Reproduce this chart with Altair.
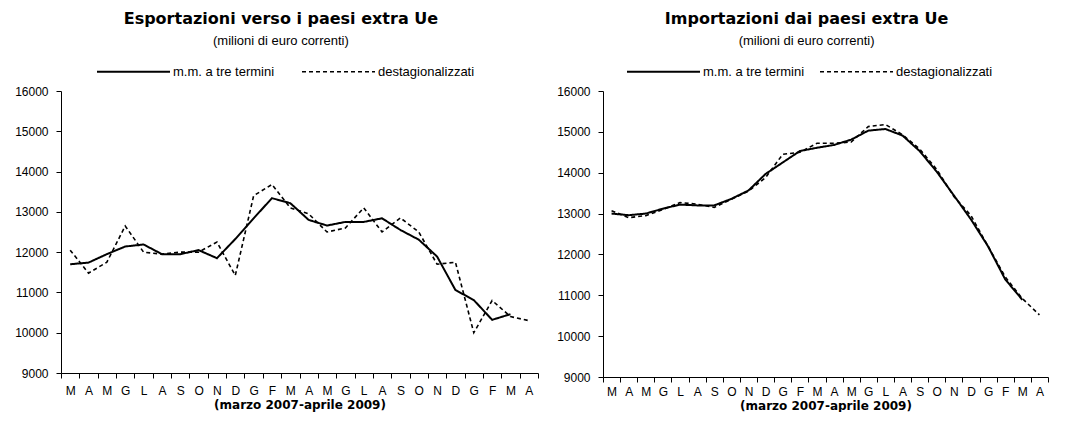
import altair as alt
import pandas as pd

months = ["M", "A", "M", "G", "L", "A", "S", "O", "N", "D", "G", "F",
          "M", "A", "M", "G", "L", "A", "S", "O", "N", "D", "G", "F", "M", "A"]
series_names = ["m.m. a tre termini", "destagionalizzati"]

exp_mm = [11700, 11740, 11950, 12140, 12190, 11950, 11950, 12050, 11850, 12325,
          12840, 13340, 13215, 12800, 12660, 12750, 12750, 12840, 12550, 12310,
          11890, 11060, 10810, 10320, 10460]
exp_dest = [12050, 11480, 11750, 12650, 12000, 11950, 12000, 12000, 12250, 11420,
            13400, 13680, 13100, 12950, 12500, 12600, 13100, 12500, 12850, 12500,
            11700, 11750, 10000, 10800, 10400, 10300]

imp_mm = [13000, 12960, 13000, 13120, 13220, 13200, 13200, 13360, 13565, 13970,
          14250, 14530, 14610, 14680, 14810, 15030, 15070, 14910, 14530, 14025,
          13444, 12857, 12196, 11390, 10890]
imp_dest = [13070, 12900, 12950, 13100, 13270, 13230, 13150, 13350, 13550, 13880,
            14450, 14500, 14720, 14720, 14750, 15130, 15180, 14930, 14580, 14080,
            13420, 12950, 12200, 11450, 10920, 10520]

y_ticks = list(range(9000, 16001, 1000))
x_title = "(marzo 2007-aprile 2009)"
subtitle = "(milioni di euro correnti)"


def frame(mm, dest):
    rows = [{"i": i, "v": v, "s": series_names[0]} for i, v in enumerate(mm)]
    rows += [{"i": i, "v": v, "s": series_names[1]} for i, v in enumerate(dest)]
    return pd.DataFrame(rows)


label_expr = "[" + ",".join("'%s'" % m for m in months) + "][round(datum.value + 0.5)] || ''"
n = len(months)


def panel(df, title, w, h, lx, ly, colpad, xlabpad):
    step = w / n
    x = alt.X("i:Q",
              scale=alt.Scale(domain=[-0.5, n - 0.5], nice=False, zero=False),
              axis=alt.Axis(values=[k - 0.5 for k in range(n + 1)], labelExpr=label_expr,
                            labelOffset=step / 2, labelOverlap=False, labelFlush=False,
                            grid=False, labelFontSize=12, labelPadding=xlabpad, tickSize=5,
                            title=x_title, titleFont="DejaVu Sans", titleFontSize=12,
                            titleFontWeight="bold", titlePadding=3))
    y = alt.Y("v:Q",
              scale=alt.Scale(domain=[9000, 16000], nice=False, zero=False),
              axis=alt.Axis(values=y_ticks, format="d", title=None, grid=False,
                            labelFontSize=12, labelPadding=8, tickSize=5))
    sd = alt.StrokeDash("s:N",
                        scale=alt.Scale(domain=series_names, range=[[1, 0], [4, 3]]),
                        legend=alt.Legend(title=None, orient="none", legendX=lx, legendY=ly,
                                          direction="horizontal", symbolType="stroke",
                                          symbolSize=5329, symbolStrokeWidth=2,
                                          symbolStrokeColor="black", labelFontSize=13,
                                          labelColor="black", labelOffset=2,
                                          columnPadding=colpad))
    sw = alt.StrokeWidth("s:N", scale=alt.Scale(domain=series_names, range=[2, 1.6]),
                         legend=None)
    return alt.Chart(df).mark_line(color="black").encode(
        x=x, y=y, strokeDash=sd, strokeWidth=sw
    ).properties(
        width=w, height=h,
        title=alt.TitleParams(text=title, subtitle=subtitle, anchor="middle",
                              frame="bounds", font="DejaVu Sans", fontSize=16,
                              fontWeight="bold", color="black",
                              subtitleFont="Liberation Sans", subtitleFontSize=13,
                              subtitleColor="black", subtitlePadding=8, offset=-14)
    )


left = panel(frame(exp_mm, exp_dest), "Esportazioni verso i paesi extra Ue",
             477, 282, 35, -57, 23, 7)
right = panel(frame(imp_mm, imp_dest), "Importazioni dai paesi extra Ue",
              445, 286, 23, -57, 11, 4)

chart = alt.hconcat(left, right, spacing=8).resolve_scale(
    x="independent", y="independent", strokeDash="independent", strokeWidth="independent"
).resolve_legend(strokeDash="independent").configure(
    font="Liberation Sans",
    padding={"left": 6, "top": 3, "right": 2, "bottom": 1},
).configure_view(stroke=None).configure_axis(
    domainColor="black", tickColor="black", labelColor="black", titleColor="black",
    labelFont="Liberation Sans"
)

chart.save("out.html", embed_options={"renderer": "svg", "actions": False})
